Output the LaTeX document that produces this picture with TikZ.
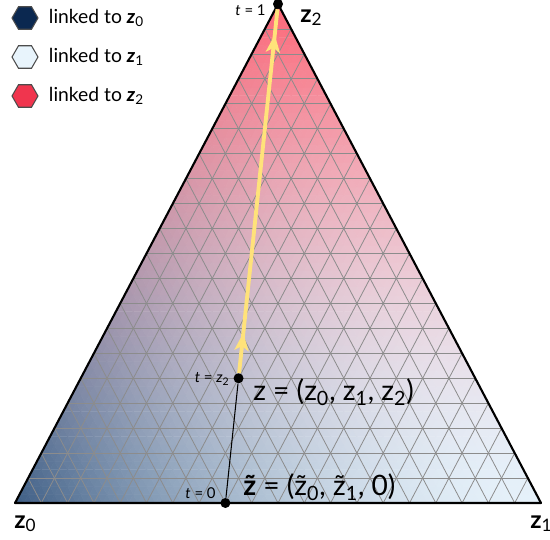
\documentclass[tikz,border=0pt]{standalone}
\usepackage{fontspec}
\setmainfont{Lato}
\usetikzlibrary{calc,positioning,shapes.geometric,arrows.meta,decorations.markings}

% legend colours
\definecolor{legzero}{HTML}{0B2850}
\definecolor{legone}{HTML}{E8F4FC}
\definecolor{legtwo}{HTML}{F0354E}
\definecolor{pathyellow}{HTML}{FFE27A}

% colour of a cell from its barycentric weights #1 (z1) and #2 (z2):
% z0 and z2 weights are damped, the light z1 colour takes the rest
\newcommand\setbary[2]{%
  \pgfmathsetmacro\bwo{(1-(#1)-(#2))^1.75}%
  \pgfmathsetmacro\bwt{(#2)^1.65}%
  \pgfmathsetmacro\bwi{1-\bwo-\bwt}%
  \pgfmathsetmacro\bcr{\bwo*0.247+\bwi*0.900+\bwt*0.990}%
  \pgfmathsetmacro\bcg{\bwo*0.369+\bwi*0.945+\bwt*0.400}%
  \pgfmathsetmacro\bcb{\bwo*0.522+\bwi*0.980+\bwt*0.465}%
  \definecolor{bary}{rgb}{\bcr,\bcg,\bcb}}

\tikzset{
  gridline/.style={black!45, line width=0.45pt},
  hexa/.style={regular polygon, regular polygon sides=6, minimum size=0.52cm,
    inner sep=0, draw=gray!60!black, line width=0.6pt},
  legtext/.style={font=\fontsize{11}{13}\selectfont, inner sep=0},
  dot/.style={circle, fill=black, inner sep=0, minimum size=0.2cm},
  tlabel/.style={font=\fontsize{8.5}{10}\selectfont, inner sep=0, anchor=east},
  biglabel/.style={font=\fontsize{16}{18}\selectfont, inner sep=0, anchor=west},
  vertlabel/.style={font=\fontsize{14}{16}\selectfont\bfseries, inner sep=0, anchor=base west},
  pathline/.style={pathyellow, line width=2.2pt,
    postaction={decorate, decoration={markings,
      mark=at position 0.11 with {\arrow{Stealth[length=10pt,width=8pt,inset=2.5pt]}},
      mark=at position 0.93 with {\arrow{Stealth[length=10pt,width=8pt,inset=2.5pt]}}}}}
}

\begin{document}
\begin{tikzpicture}[x=0.02cm,y=0.02cm]
  \useasboundingbox (0,0) rectangle (550,539);
  % vertices of the simplex
  \coordinate (Z0) at (15,36);
  \coordinate (Z1) at (541,36);
  \coordinate (Z2) at (278,535);
  % colour fill, 60 cells a side
  \foreach \a in {0,...,59}{
    \pgfmathtruncatemacro\bmax{59-\a}
    \foreach \b in {0,...,\bmax}{
      \setbary{(\a+1/3)/60}{(\b+1/3)/60}
      \fill[bary, draw=bary, line width=0.25pt]
        ({15+8.7667*\a+4.3833*\b},{36+8.3167*\b})
        -- ({15+8.7667*(\a+1)+4.3833*\b},{36+8.3167*\b})
        -- ({15+8.7667*\a+4.3833*(\b+1)},{36+8.3167*(\b+1)}) -- cycle;
      \ifnum\b<\bmax
        \setbary{(\a+2/3)/60}{(\b+2/3)/60}
        \fill[bary, draw=bary, line width=0.25pt]
          ({15+8.7667*(\a+1)+4.3833*\b},{36+8.3167*\b})
          -- ({15+8.7667*(\a+1)+4.3833*(\b+1)},{36+8.3167*(\b+1)})
          -- ({15+8.7667*\a+4.3833*(\b+1)},{36+8.3167*(\b+1)}) -- cycle;
      \fi
    }
  }
  % grid, 20 steps a side
  \foreach \k in {1,...,19}{
    \draw[gridline] ($(Z0)!\k/20!(Z2)$) -- ($(Z1)!\k/20!(Z2)$);
    \draw[gridline] ($(Z0)!\k/20!(Z1)$) -- ($(Z0)!\k/20!(Z2)$);
    \draw[gridline] ($(Z0)!\k/20!(Z1)$) -- ($(Z2)!\k/20!(Z1)$);
  }
  % outline
  \draw[line width=1.2pt, line join=round] (Z0) -- (Z1) -- (Z2) -- cycle;
  % points and path
  \node[dot] (ztilde) at ($(Z0)!0.4!(Z1)$) {};
  \node[dot] (zpoint) at ($(ztilde)!0.25!(Z2)$) {};
  \node[dot] (ztop) at (Z2) {};
  \draw[line width=0.6pt] (ztilde) -- (zpoint);
  \draw[pathline] (zpoint) -- (ztop);
  % t labels
  \node[tlabel] (tone) at (266,529) {\textit{t} = 1};
  \node[tlabel] (tzed) at (230,160) {\textit{t} = \textit{z}\textsubscript{2}};
  \node[tlabel] (tzero) at (216,46) {\textit{t} = 0};
  % point labels
  \node[biglabel] (zlab) at (253,147)
    {z = (z\textsubscript{0}, z\textsubscript{1}, z\textsubscript{2})};
  \node[biglabel] (ztlab) at (243,52)
    {\textbf{\~{z}} = (\~{z}\textsubscript{0}, \~{z}\textsubscript{1}, 0)};
  % vertex labels
  \node[vertlabel] (lzero) at (14,11) {z\textsubscript{\mdseries 0}};
  \node[vertlabel] (lone) at (530,11) {z\textsubscript{\mdseries 1}};
  \node[vertlabel] (ltwo) at (300,517) {z\textsubscript{\mdseries 2}};
  % legend
  \node[hexa, fill=legzero] (hzero) at (25,521) {};
  \node[hexa, fill=legone] (hone) at (25,482) {};
  \node[hexa, fill=legtwo] (htwo) at (25,443) {};
  \node[legtext, right=0.2cm of hzero] {linked to \textbf{\textit{z}}\textsubscript{0}};
  \node[legtext, right=0.2cm of hone] {linked to \textbf{\textit{z}}\textsubscript{1}};
  \node[legtext, right=0.2cm of htwo] {linked to \textbf{\textit{z}}\textsubscript{2}};
\end{tikzpicture}
\end{document}
